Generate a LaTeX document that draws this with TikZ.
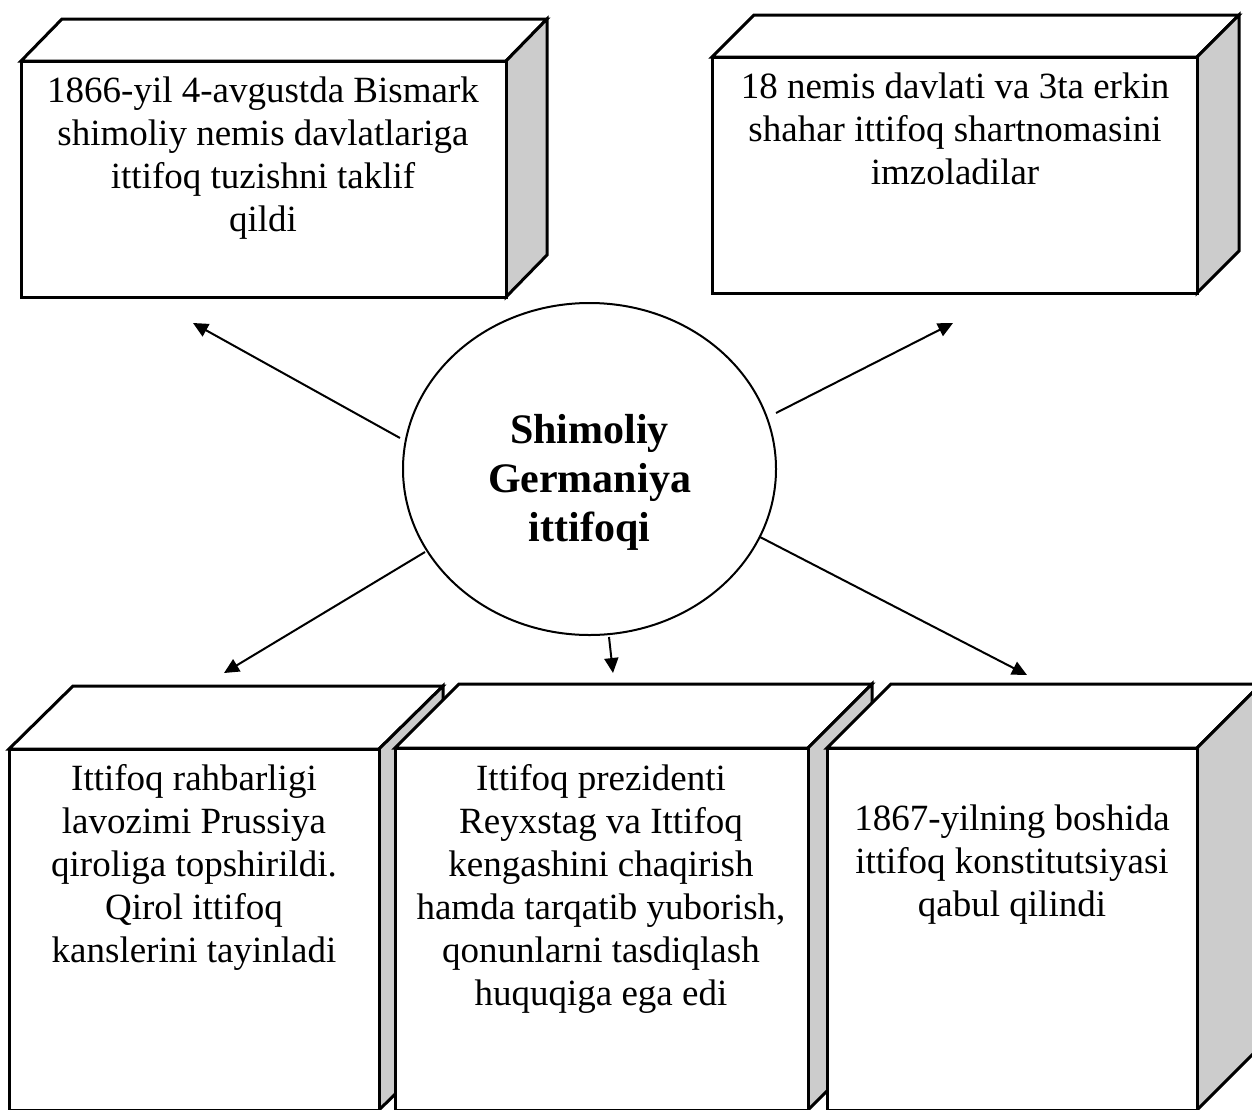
\documentclass[tikz,border=0pt]{standalone}
\usepackage{fontspec}
\setmainfont{Liberation Serif}
\usetikzlibrary{arrows.meta,shapes.geometric}
\definecolor{sidegray}{RGB}{204,204,204}
% #1,#2 = front top-left; #3,#4 = front bottom-right; #5,#6 = depth (right, up)
\newcommand\drawcuboid[6]{%
  \filldraw[face] (#1,#2) -- (#1+#5,#2-#6) -- (#3+#5,#2-#6) -- (#3,#2) -- cycle;
  \filldraw[sideface] (#3,#2) -- (#3+#5,#2-#6) -- (#3+#5,#4-#6) -- (#3,#4) -- cycle;
  \filldraw[face] (#1,#2) rectangle (#3,#4);
}
\begin{document}
\begin{tikzpicture}[x=1pt,y=-1pt,
  face/.style={draw=black,line width=3pt,line join=miter,fill=white},
  sideface/.style={draw=black,line width=3pt,line join=miter,fill=sidegray},
  conn/.style={line width=2pt,-{Triangle[length=15pt,width=14pt]}},
  txt/.style={anchor=base,inner sep=0pt,font=\fontsize{37}{43}\selectfont},
  hub/.style={draw=black,ellipse,line width=2pt,minimum width=373pt,minimum height=332pt,inner sep=0pt,fill=white},
  hubtxt/.style={anchor=base,inner sep=0pt,font=\fontsize{42}{49}\selectfont\bfseries},
]
\useasboundingbox (0,0) rectangle (1252,1109);
\clip (0,0) rectangle (1252,1109);

% top boxes
\drawcuboid{21}{61}{506}{297}{41}{42}
\drawcuboid{712}{57}{1197}{293}{42}{42}
% bottom boxes (left to right, each overlapping the previous one's side)
\drawcuboid{9}{749}{379}{1110}{64}{63}
\drawcuboid{395}{748}{808}{1110}{64}{64}
\drawcuboid{827}{748}{1197}{1110}{64}{64}

\node[txt] (t1) at (263,102) {\begin{tabular}[t]{@{}c@{}}1866-yil 4-avgustda Bismark\\shimoliy nemis davlatlariga\\ittifoq tuzishni taklif\\qildi\end{tabular}};
\node[txt] (t2) at (955,98) {\begin{tabular}[t]{@{}c@{}}18 nemis davlati va 3ta erkin\\shahar ittifoq shartnomasini\\imzoladilar\end{tabular}};
\node[txt] (t3) at (194,790) {\begin{tabular}[t]{@{}c@{}}Ittifoq rahbarligi\\lavozimi Prussiya\\qiroliga topshirildi.\\Qirol ittifoq\\kanslerini tayinladi\end{tabular}};
\node[txt] (t4) at (601,790) {\begin{tabular}[t]{@{}c@{}}Ittifoq prezidenti\\Reyxstag va Ittifoq\\kengashini chaqirish\\hamda tarqatib yuborish,\\qonunlarni tasdiqlash\\huquqiga ega edi\end{tabular}};
\node[txt] (t5) at (1012,830) {\begin{tabular}[t]{@{}c@{}}1867-yilning boshida\\ittifoq konstitutsiyasi\\qabul qilindi\end{tabular}};

% central ellipse
\node[hub] (c) at (589.5,469) {};
\node[hubtxt] (ct) at (589.5,443) {\begin{tabular}[t]{@{}c@{}}Shimoliy\\Germaniya\\ittifoqi\end{tabular}};

% connectors
\coordinate (s1) at (400,438); \coordinate (e1) at (193,323);
\coordinate (s2) at (776,413); \coordinate (e2) at (953,323);
\coordinate (s3) at (425,552); \coordinate (e3) at (224,673);
\coordinate (s4) at (609,637); \coordinate (e4) at (613,673);
\coordinate (s5) at (760,537); \coordinate (e5) at (1027,675);
\draw[conn] (s1) -- (e1);
\draw[conn] (s2) -- (e2);
\draw[conn] (s3) -- (e3);
\draw[conn] (s4) -- (e4);
\draw[conn] (s5) -- (e5);
\end{tikzpicture}
\end{document}
